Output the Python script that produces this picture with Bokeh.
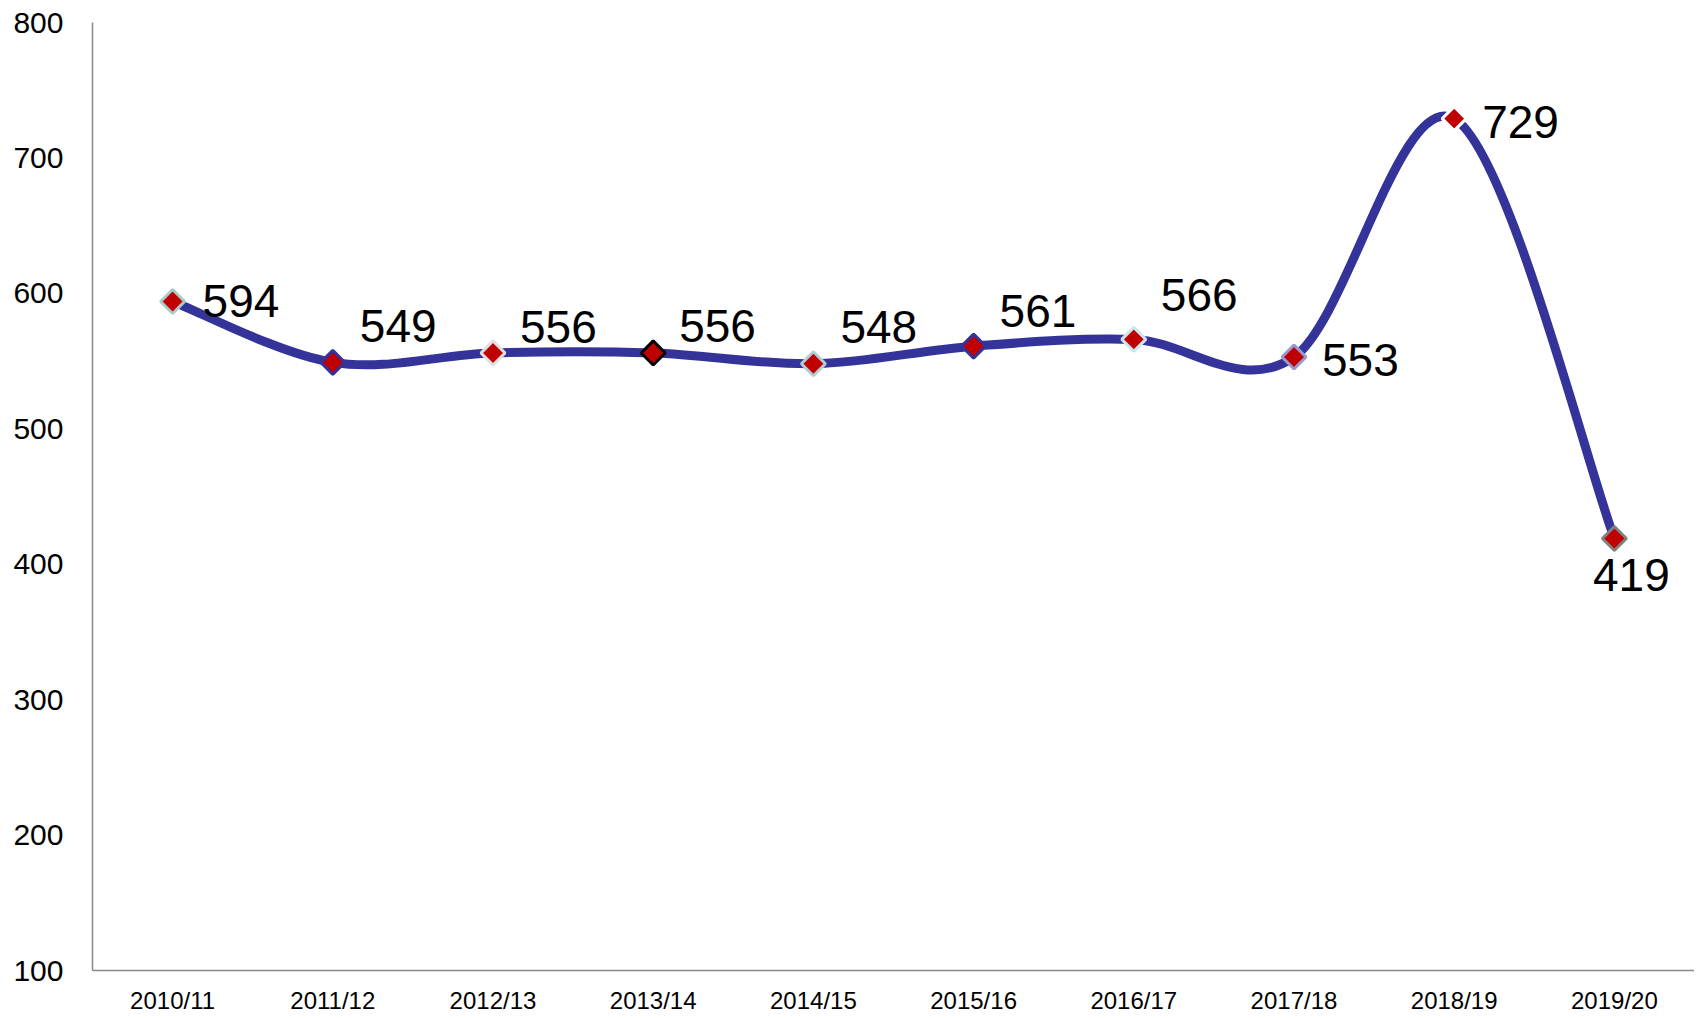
import numpy as np
from bokeh.plotting import figure
from bokeh.models import ColumnDataSource, FixedTicker, Range1d
from bokeh.core.properties import value
from bokeh.embed import file_html
from bokeh.resources import INLINE

# ---- data ----
seasons = ["2010/11", "2011/12", "2012/13", "2013/14", "2014/15",
           "2015/16", "2016/17", "2017/18", "2018/19", "2019/20"]
counts = [594, 549, 556, 556, 548, 561, 566, 553, 729, 419]
y_ticks = [100, 200, 300, 400, 500, 600, 700, 800]

# ---- styles ----
marker_outline = ["#A8CCCC", "#333399", "#E0E0E0", "#000000", "#B4CCD4",
                  "#333399", "#CCE6EE", "#9999CC", "#FFFFFF", "#808080"]
label_dx = [30, 27, 27, 26, 27, 26, 27, 28, 28, 17]
label_dy = [0, -36, -26, -27, -37, -35, -44, 3, 3, 37]
label_align = ["left"] * 9 + ["center"]

FONT = "Liberation Sans"

n = len(counts)
xs = list(range(n))

# smoothed line (Catmull-Rom as cubic Bezier segments, from the data points)
x0, y0, x1, y1, cx0, cy0, cx1, cy1 = [], [], [], [], [], [], [], []
for i in range(n - 1):
    pa = (xs[i - 1], counts[i - 1]) if i > 0 else (xs[i], counts[i])
    pb = (xs[i], counts[i])
    pc = (xs[i + 1], counts[i + 1])
    pd = (xs[i + 2], counts[i + 2]) if i + 2 < n else (xs[i + 1], counts[i + 1])
    x0.append(pb[0]); y0.append(pb[1])
    x1.append(pc[0]); y1.append(pc[1])
    cx0.append(pb[0] + (pc[0] - pa[0]) / 6.0)
    cy0.append(pb[1] + (pc[1] - pa[1]) / 6.0)
    cx1.append(pc[0] - (pd[0] - pb[0]) / 6.0)
    cy1.append(pc[1] - (pd[1] - pb[1]) / 6.0)

curve = ColumnDataSource(dict(x0=x0, y0=y0, x1=x1, y1=y1,
                              cx0=cx0, cy0=cy0, cx1=cx1, cy1=cy1))
pts = ColumnDataSource(dict(x=xs, y=counts, lc=marker_outline,
                            txt=[str(c) for c in counts],
                            dx=label_dx, dy=label_dy, al=label_align))

p = figure(width=1694, height=1016, output_backend="svg", toolbar_location=None,
           x_range=Range1d(-0.5, 9.5), y_range=Range1d(100, 800),
           min_border_left=92, min_border_right=0, min_border_top=22,
           min_border_bottom=38)
p.outline_line_color = None
p.xgrid.visible = False
p.ygrid.visible = False
p.background_fill_color = "white"

p.bezier(x0="x0", y0="y0", x1="x1", y1="y1", cx0="cx0", cy0="cy0",
         cx1="cx1", cy1="cy1", source=curve, line_color="#333399",
         line_width=9, line_cap="round")

p.scatter(x="x", y="y", source=pts, marker="square", angle=np.pi / 4,
          size=17, fill_color="#C00000", line_color="lc", line_width=3)

p.text(x="x", y="y", text="txt", source=pts, x_offset="dx", y_offset="dy",
       text_align="al", text_baseline="middle", text_font=value(FONT),
       text_font_size="46px", text_color="black")

for ax in (p.xaxis[0], p.yaxis[0]):
    ax.axis_line_color = "#898989"
    ax.axis_line_width = 1.5
    ax.major_tick_out = 0
    ax.major_tick_in = 0
    ax.minor_tick_out = 0
    ax.minor_tick_in = 0
    ax.major_label_text_font = FONT
    ax.major_label_text_color = "black"

p.xaxis.ticker = FixedTicker(ticks=xs)
p.xaxis.major_label_overrides = {i: s for i, s in zip(xs, seasons)}
p.xaxis.major_label_text_font_size = "24px"
p.xaxis.major_label_standoff = 16

p.yaxis.ticker = FixedTicker(ticks=y_ticks)
p.yaxis.major_label_text_font_size = "30px"
p.yaxis.major_label_standoff = 29

open("out.html", "w").write(file_html(p, INLINE))
